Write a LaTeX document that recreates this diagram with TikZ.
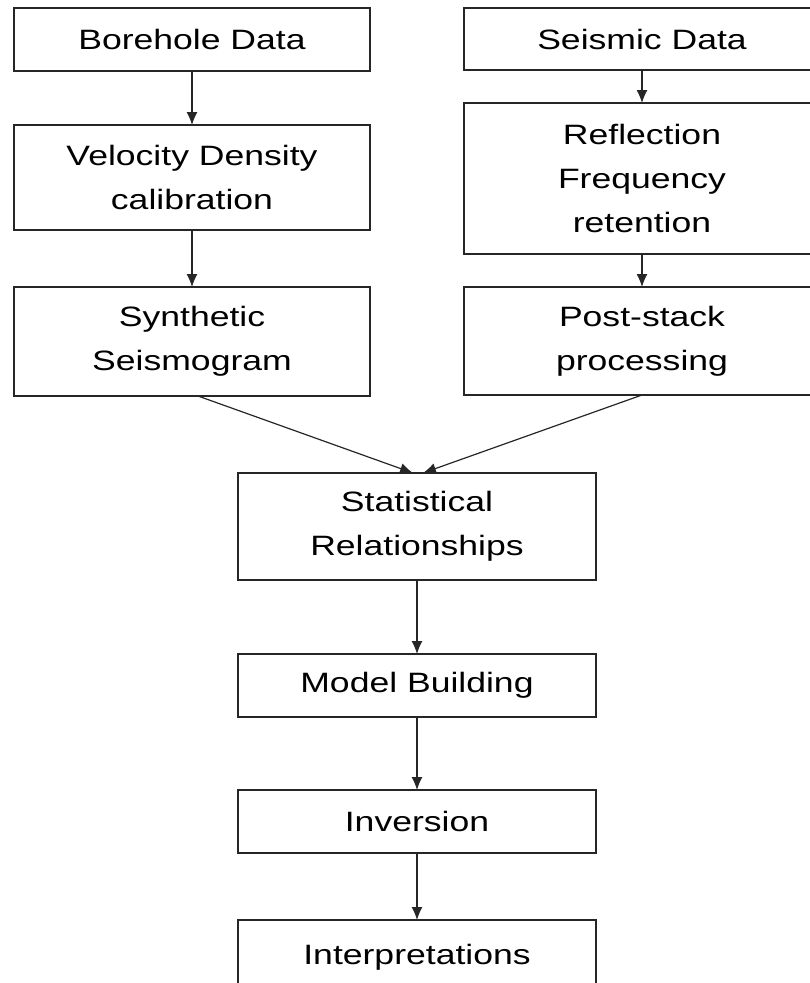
\documentclass[tikz,border=0pt]{standalone}
\usepackage{fontspec}
\setmainfont{Liberation Sans}[FakeStretch=1.27]
\usetikzlibrary{positioning,arrows.meta}
\tikzset{>={Latex[length=13pt,width=11pt]}}
\tikzset{
  box/.style={draw=black!85, line width=1.3pt, minimum width=356pt, outer sep=0pt,
    align=center, font=\fontsize{28}{44}\selectfont},
  flow/.style={->, black!85, line width=1.2pt}
}

\begin{document}
\begin{tikzpicture}
\useasboundingbox (0,0) rectangle (810pt,-983pt);
% borehole branch
\node [box,minimum height=63pt] (bore) at (192pt,-39.5pt) {Borehole Data};
\node [box,minimum height=105pt,below=54pt of bore] (vel) {Velocity Density\\calibration};
\node [box,minimum height=109pt,below=57pt of vel] (syn) {Synthetic\\Seismogram};
% seismic branch
\node [box,minimum height=62pt] (seis) at (642pt,-39pt) {Seismic Data};
\node [box,minimum height=151pt,below=33pt of seis] (refl) {Reflection\\Frequency\\retention};
\node [box,minimum height=108pt,below=33pt of refl] (post) {Post-stack\\processing};
% common trunk
\node [box,minimum width=358pt,minimum height=107pt] (stat) at (417pt,-526.5pt) {Statistical\\Relationships};
\node [box,minimum width=358pt,minimum height=63pt,below=74pt of stat] (model) {Model Building};
\node [box,minimum width=358pt,minimum height=63pt,below=73pt of model] (inv) {Inversion};
\node [box,minimum width=358pt,minimum height=74pt,below=67pt of inv] (interp) {Interpretations};
\path [flow] (bore) edge (vel)
             (vel) edge (syn)
             (seis) edge (refl)
             (refl) edge (post)
             ([xshift=6pt]syn.south) edge ([xshift=-4pt]stat.north)
             (post.south) edge ([xshift=6pt]stat.north)
             (stat) edge (model)
             (model) edge (inv)
             (inv) edge (interp)
;
\end{tikzpicture}
\end{document}
